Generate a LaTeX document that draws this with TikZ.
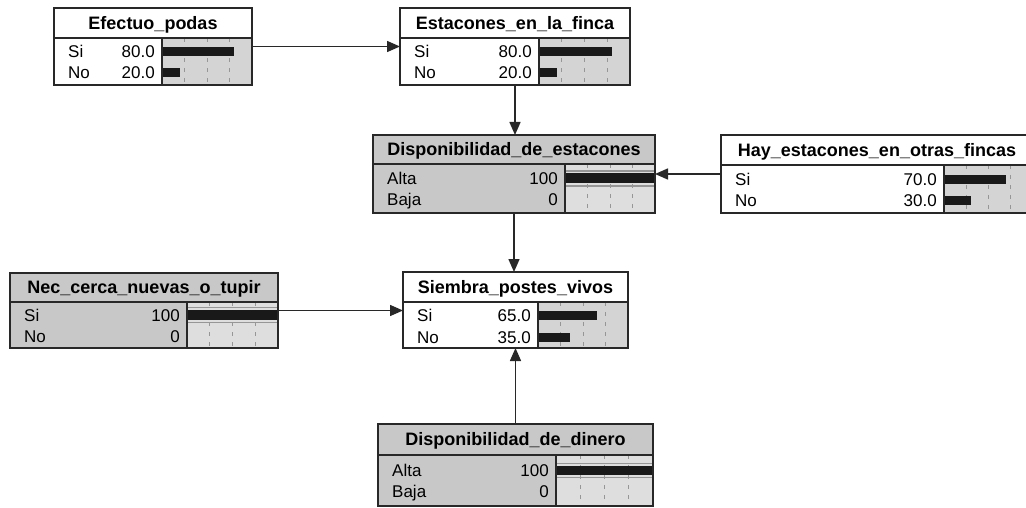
\documentclass[tikz,border=0pt]{standalone}
\usepackage{fontspec}
\setmainfont{Liberation Sans}
\usetikzlibrary{arrows.meta}

\definecolor{nodegray}{RGB}{200,200,200}
\definecolor{barpanel}{RGB}{212,212,212}
\definecolor{barpanelgray}{RGB}{222,222,222}
\definecolor{frame}{RGB}{40,40,40}
\definecolor{tickgray}{RGB}{150,150,150}
\definecolor{rimgray}{RGB}{150,150,150}
\definecolor{barblack}{RGB}{25,25,25}

\begin{document}
\begin{tikzpicture}[x=1pt,y=1pt,yscale=-1,
  netbox/.style={draw=frame,line width=1.8pt,inner sep=0pt,outer sep=0pt},
  netline/.style={draw=frame,line width=1.4pt},
  titletext/.style={inner sep=0pt,text height=12.5pt,text depth=0pt,font=\fontsize{18}{21}\selectfont\bfseries},
  statetext/.style={inner sep=0pt,anchor=west,text height=12pt,text depth=0pt,font=\fontsize{17}{20}\selectfont},
  valuetext/.style={inner sep=0pt,anchor=east,text height=12pt,text depth=0pt,font=\fontsize{17}{20}\selectfont},
  tickline/.style={draw=tickgray,line width=0.8pt,dash pattern=on 4pt off 6pt},
  probbar/.style={fill=barblack},
  fullrim/.style={draw=rimgray,line width=1.2pt},
  link/.style={draw=frame,line width=1.5pt,-{Triangle[length=13pt,width=11pt]}}]
%set diagram size to 1026 x 508
\fill[white] (0,0) rectangle (1026,508);
\clip (0,0) rectangle (1026,508);

%Node: Efectuo_podas
\fill[white] (54,8) rectangle (162,85);
\fill[barpanel] (162,38) rectangle (252,85);
\foreach \x in {184.5,207,229.5} \draw[tickline] (\x,38) -- (\x,85);
\fill[probbar] (162,47.5) rectangle (234,56.5);
\fill[probbar] (162,68.5) rectangle (180,77.5);
\draw[netline] (54,38) -- (252,38) (162,38) -- (162,85);
\node[netbox,minimum width=198pt,minimum height=77pt] (podas) at (153,46.5) {};
\node[titletext] (podas-title) at (153,23) {Efectuo\_podas};
\node[statetext] (podas-si) at (68,52) {Si};
\node[valuetext] (podas-sival) at (155,52) {80.0};
\node[statetext] (podas-no) at (68,73) {No};
\node[valuetext] (podas-noval) at (155,73) {20.0};

%Node: Estacones_en_la_finca
\fill[white] (400,8) rectangle (539,85);
\fill[barpanel] (539,38) rectangle (630,85);
\foreach \x in {561.75,584.5,607.25} \draw[tickline] (\x,38) -- (\x,85);
\fill[probbar] (539,47.5) rectangle (611.8,56.5);
\fill[probbar] (539,68.5) rectangle (557.2,77.5);
\draw[netline] (400,38) -- (630,38) (539,38) -- (539,85);
\node[netbox,minimum width=230pt,minimum height=77pt] (finca) at (515,46.5) {};
\node[titletext] (finca-title) at (515,23) {Estacones\_en\_la\_finca};
\node[statetext] (finca-si) at (414,52) {Si};
\node[valuetext] (finca-sival) at (532,52) {80.0};
\node[statetext] (finca-no) at (414,73) {No};
\node[valuetext] (finca-noval) at (532,73) {20.0};

%Node: Disponibilidad_de_estacones
\fill[nodegray] (373,135) rectangle (565,213);
\fill[nodegray] (565,135) rectangle (655,164);
\fill[barpanelgray] (565,164) rectangle (655,213);
\foreach \x in {587.5,610,632.5} \draw[tickline] (\x,164) -- (\x,213);
\fill[probbar] (565,173.5) rectangle (655,183.5);
\draw[fullrim] (565,171) -- (655,171) (565,186) -- (655,186);
\draw[netline] (373,164) -- (655,164) (565,164) -- (565,213);
\node[netbox,minimum width=282pt,minimum height=78pt] (destac) at (514,174) {};
\node[titletext] (destac-title) at (514,149.5) {Disponibilidad\_de\_estacones};
\node[statetext] (destac-alta) at (387,178.5) {Alta};
\node[valuetext] (destac-altaval) at (558,178.5) {100};
\node[statetext] (destac-baja) at (387,200) {Baja};
\node[valuetext] (destac-bajaval) at (558,200) {0};

%Node: Hay_estacones_en_otras_fincas
\fill[white] (721,135) rectangle (944,213);
\fill[white] (944,135) rectangle (1033,165);
\fill[barpanel] (944,165) rectangle (1033,213);
\foreach \x in {966.25,988.5,1010.75} \draw[tickline] (\x,165) -- (\x,213);
\fill[probbar] (944,175) rectangle (1006.3,184);
\fill[probbar] (944,196) rectangle (970.7,205);
\draw[netline] (721,165) -- (1033,165) (944,165) -- (944,213);
\node[netbox,minimum width=312pt,minimum height=78pt] (otras) at (877,174) {};
\node[titletext] (otras-title) at (877,150) {Hay\_estacones\_en\_otras\_fincas};
\node[statetext] (otras-si) at (735,179.5) {Si};
\node[valuetext] (otras-sival) at (937,179.5) {70.0};
\node[statetext] (otras-no) at (735,200.5) {No};
\node[valuetext] (otras-noval) at (937,200.5) {30.0};

%Node: Nec_cerca_nuevas_o_tupir
\fill[nodegray] (10,273) rectangle (187,348);
\fill[nodegray] (187,273) rectangle (278,302);
\fill[barpanelgray] (187,302) rectangle (278,348);
\foreach \x in {209.75,232.5,255.25} \draw[tickline] (\x,302) -- (\x,348);
\fill[probbar] (187,310) rectangle (278,320);
\draw[fullrim] (187,307.5) -- (278,307.5) (187,322.5) -- (278,322.5);
\draw[netline] (10,302) -- (278,302) (187,302) -- (187,348);
\node[netbox,minimum width=268pt,minimum height=75pt] (nec) at (144,310.5) {};
\node[titletext] (nec-title) at (144,287.5) {Nec\_cerca\_nuevas\_o\_tupir};
\node[statetext] (nec-si) at (24,315) {Si};
\node[valuetext] (nec-sival) at (180,315) {100};
\node[statetext] (nec-no) at (24,336) {No};
\node[valuetext] (nec-noval) at (180,336) {0};

%Node: Siembra_postes_vivos
\fill[white] (403,272) rectangle (538,348);
\fill[barpanel] (538,302) rectangle (628,348);
\foreach \x in {560.5,583,605.5} \draw[tickline] (\x,302) -- (\x,348);
\fill[probbar] (538,310.5) rectangle (596.5,319.5);
\fill[probbar] (538,332.5) rectangle (569.5,341.5);
\draw[netline] (403,302) -- (628,302) (538,302) -- (538,348);
\node[netbox,minimum width=225pt,minimum height=76pt] (siembra) at (515.5,310) {};
\node[titletext] (siembra-title) at (515.5,287) {Siembra\_postes\_vivos};
\node[statetext] (siembra-si) at (417,315) {Si};
\node[valuetext] (siembra-sival) at (531,315) {65.0};
\node[statetext] (siembra-no) at (417,337) {No};
\node[valuetext] (siembra-noval) at (531,337) {35.0};

%Node: Disponibilidad_de_dinero
\fill[nodegray] (378,424) rectangle (556,506);
\fill[nodegray] (556,424) rectangle (653,455);
\fill[barpanelgray] (556,455) rectangle (653,506);
\foreach \x in {580.25,604.5,628.75} \draw[tickline] (\x,455) -- (\x,506);
\fill[probbar] (556,466) rectangle (653,475);
\draw[fullrim] (556,463.5) -- (653,463.5) (556,477.5) -- (653,477.5);
\draw[netline] (378,455) -- (653,455) (556,455) -- (556,506);
\node[netbox,minimum width=275pt,minimum height=82pt] (dinero) at (515.5,465) {};
\node[titletext] (dinero-title) at (515.5,439.5) {Disponibilidad\_de\_dinero};
\node[statetext] (dinero-alta) at (392,470) {Alta};
\node[valuetext] (dinero-altaval) at (549,470) {100};
\node[statetext] (dinero-baja) at (392,491) {Baja};
\node[valuetext] (dinero-bajaval) at (549,491) {0};

%Links
\draw[link] (podas.east) -- (finca.west);
\draw[link] (finca.south) -- (finca.south |- destac.north);
\draw[link] (otras.west) -- (destac.east);
\draw[link] (destac.south) -- (destac.south |- siembra.north);
\draw[link] (nec.east) -- (nec.east -| siembra.west);
\draw[link] (dinero.north) -- (dinero.north |- siembra.south);

\end{tikzpicture}
\end{document}
